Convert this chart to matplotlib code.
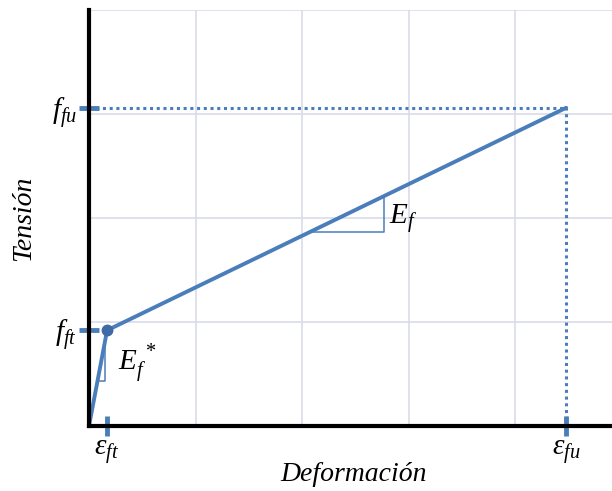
import numpy as np
import matplotlib.pyplot as plt

plt.rcParams['mathtext.fontset'] = 'custom'
plt.rcParams['mathtext.rm'] = 'Liberation Serif'
plt.rcParams['mathtext.it'] = 'Liberation Serif:italic'

# bilinear stress-strain curve
strain = [0.0, 0.17, 4.48]
stress = [0.0, 0.92, 3.06]
eps_ft, eps_fu = strain[1], strain[2]
f_ft, f_fu = stress[1], stress[2]

xtick_labels = [r'$\varepsilon_{ft}$', r'$\varepsilon_{fu}$']
ytick_labels = [r'$f_{ft}$', r'$f_{fu}$']
grid_x = [1, 2, 3, 4]
grid_y = [1, 2, 3]

# slope triangles: x start / x end along the curve
tri_ef = [2.075, 2.77]
tri_ef0 = [0.08, 0.146]

blue = '#4a7ebb'

fig = plt.figure(figsize=(6.12, 4.91), dpi=100)
ax = fig.add_axes([0.1454, 0.1324, 0.8546, 0.8472])

ax.set_xlim(0, 4.91)
ax.set_ylim(0, 4.0)

ax.set_xticks(grid_x, minor=True)
ax.set_yticks(grid_y + [4], minor=True)
ax.grid(True, which='minor', color='#d9dce9', linewidth=1.2)
ax.tick_params(which='minor', length=0)

ax.set_xticks([eps_ft, eps_fu])
ax.set_xticklabels(xtick_labels, fontsize=21)
ax.set_yticks([f_ft, f_fu])
ax.set_yticklabels(ytick_labels, fontsize=21)
ax.tick_params(which='major', direction='inout', length=15, width=3.5,
               color=blue, pad=1)

for s in ['top', 'right']:
    ax.spines[s].set_visible(False)
for s in ['left', 'bottom']:
    ax.spines[s].set_linewidth(3)
    ax.spines[s].set_color('black')
    ax.spines[s].set_zorder(5)

# dotted guides to ultimate point
ax.plot([0, eps_fu], [f_fu, f_fu], color=blue, lw=2.2, dashes=(1, 1.2))
ax.plot([eps_fu, eps_fu], [0, f_fu], color=blue, lw=2.2, dashes=(1, 1.2))

ax.plot(strain, stress, '-', color=blue, lw=2.8, solid_capstyle='round',
        zorder=4)
ax.plot([eps_ft], [f_ft], 'o', color='#3e6aa6', ms=7.5, zorder=6)

# slope triangles
for xs in (tri_ef, tri_ef0):
    y0 = np.interp(xs[0], strain, stress)
    y1 = np.interp(xs[1], strain, stress)
    ax.plot([xs[0], xs[1], xs[1]], [y0, y0, y1], color=blue, lw=1.1,
            zorder=3)

ax.text(2.82, 2.0, r'$E_f$', fontsize=21, va='center', ha='left')
ax.text(0.27, 0.6, r'$E_f^{\ *}$', fontsize=21, va='center', ha='left')

ax.set_xlabel('Deformación', fontsize=20, fontstyle='italic',
              family='Liberation Serif')
ax.set_ylabel('Tensión', fontsize=20, fontstyle='italic',
              family='Liberation Serif')
ax.xaxis.set_label_coords(0.505, -0.087)
ax.yaxis.set_label_coords(-0.101, 0.5)

fig.savefig('out.png', dpi=100)
